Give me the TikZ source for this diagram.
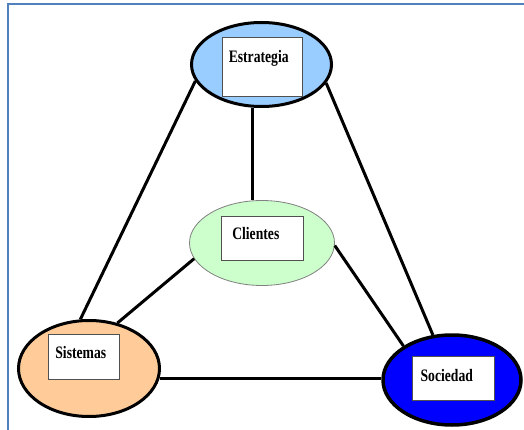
\documentclass[tikz,border=0pt]{standalone}
\usepackage{fontspec}
\usetikzlibrary{shapes.geometric}
\newfontfamily\labfont[FakeStretch=0.78]{Liberation Serif}
\definecolor{framec}{RGB}{79,129,189}
\definecolor{estrc}{RGB}{153,204,255}
\definecolor{sisc}{RGB}{255,204,153}
\definecolor{clic}{RGB}{204,255,204}
\definecolor{socc}{RGB}{0,0,255}
\definecolor{boxc}{RGB}{80,80,80}
\tikzset{
  oval/.style={ellipse, draw=black, line width=3pt, inner sep=0pt},
  labbox/.style={rectangle, draw=boxc, line width=0.9pt, fill=white, inner sep=0pt},
  labtxt/.style={anchor=base, inner sep=0pt, font=\labfont\bfseries\fontsize{17.5}{17.5}\selectfont},
  link/.style={line width=3pt, black}
}
\begin{document}
\begin{tikzpicture}[x=1pt,y=-1pt]
\useasboundingbox (0,0) rectangle (524,430);
\fill[white] (0,0) rectangle (524,430);
\draw[framec, line width=2pt] (8,430) -- (8,4.5) -- (524,4.5);

\node[oval, fill=estrc, minimum width=140pt, minimum height=84pt] (estr) at (261.5,64.5) {};
\node[oval, fill=sisc, minimum width=141pt, minimum height=96pt] (sis) at (89,368.5) {};
\node[oval, fill=socc, line width=3.5pt, minimum width=138pt, minimum height=90pt] (soc) at (452,380) {};
\node[ellipse, draw=gray, line width=0.8pt, fill=clic, inner sep=0pt, minimum width=145pt, minimum height=85pt] (cli) at (262,243) {};

\node[labbox, minimum width=80pt, minimum height=59pt] (estrbox) at (262,67) {};
\node[labbox, minimum width=71pt, minimum height=45pt] (sisbox) at (83.8,356.5) {};
\node[labbox, minimum width=82pt, minimum height=44pt] (socbox) at (453.3,378) {};
\node[labbox, minimum width=81.5pt, minimum height=44.5pt] (clibox) at (262.5,238.3) {};

\node[labtxt] (estrt) at (258.7,62.3) {Estrategia};
\node[labtxt] (sist) at (80.8,358.3) {Sistemas};
\node[labtxt] (soct) at (446.8,381) {Sociedad};
\node[labtxt] (clit) at (255.8,240) {Clientes};

\draw[link] (estr.194) -- (sis.100);
\draw[link] (estr.344) -- (soc.113);
\draw[link] (estr.258) -- (estr.258 |- cli.north);
\draw[link] (cli.193) -- (sis.58);
\draw[link] (cli.358) -- (soc.145);
\draw[link] (sis.-8) -- (sis.-8 -| soc.west);
\end{tikzpicture}
\end{document}
